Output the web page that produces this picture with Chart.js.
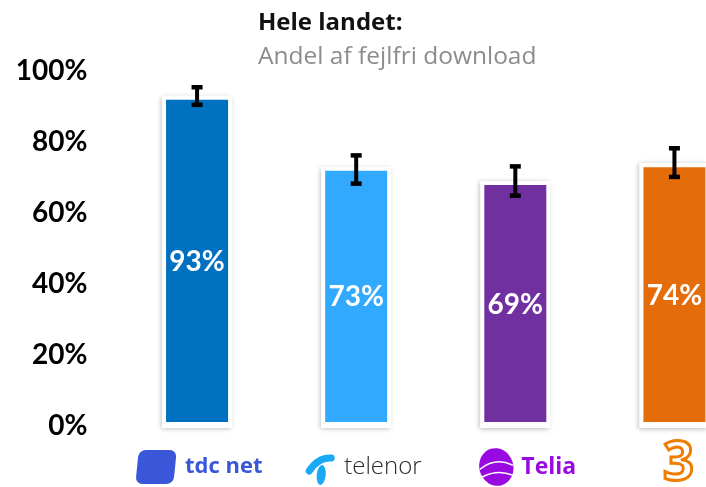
<!DOCTYPE html>
<html>
<head>
<meta charset="utf-8">
<script src="https://cdn.jsdelivr.net/npm/chart.js@4.4.1/dist/chart.umd.min.js"></script>
<style>
  html, body { margin: 0; padding: 0; overflow: hidden; background: #fff; }
  #wrap { width: 754px; height: 487px; }
</style>
</head>
<body>
<div id="wrap"><canvas id="chart" width="754" height="487"></canvas></div>
<script>
// Data
const operators = ['tdc net', 'telenor', 'Telia', '3'];
const shares = [93, 73, 69, 74];          // andel fejlfri download (%)
const errLow = [90.4, 68.2, 64.8, 70.1];  // lower end of error bar
const errHigh = [95.5, 76.3, 73.2, 78.3]; // upper end of error bar
const yTicks = [0, 20, 40, 60, 80, 100];

const barColors = ['#0070c0', '#31a9ff', '#7030a0', '#e46c0a'];

// Soft shadow behind each bar
const shadowPlugin = {
    id: 'barShadow',
    beforeDatasetsDraw(chart) {
        const ctx = chart.ctx;
        chart.getDatasetMeta(0).data.forEach(bar => {
            const p = bar.getProps(['x', 'y', 'base', 'width'], true);
            ctx.save();
            ctx.shadowColor = 'rgba(0,0,0,0.28)';
            ctx.shadowBlur = 5;
            ctx.shadowOffsetX = -1;
            ctx.shadowOffsetY = 1;
            ctx.fillStyle = '#fff';
            ctx.fillRect(p.x - p.width / 2, p.y, p.width, p.base - p.y + 2);
            ctx.restore();
        });
    }
};

// Error bars and value labels
const overlayPlugin = {
    id: 'overlay',
    afterDatasetsDraw(chart) {
        const ctx = chart.ctx;
        const y = chart.scales.y;
        chart.getDatasetMeta(0).data.forEach((bar, i) => {
            const p = bar.getProps(['x', 'y', 'base'], true);
            // value label
            ctx.save();
            ctx.fillStyle = '#fff';
            ctx.font = 'bold 28px Lato';
            ctx.textAlign = 'center';
            ctx.textBaseline = 'middle';
            ctx.fillText(shares[i] + '%', p.x, (p.y + p.base) / 2 + 1);
            // error bar
            const top = y.getPixelForValue(errHigh[i]);
            const bot = y.getPixelForValue(errLow[i]);
            ctx.strokeStyle = '#000';
            ctx.lineWidth = 4;
            ctx.beginPath();
            ctx.moveTo(p.x, top);
            ctx.lineTo(p.x, bot);
            ctx.stroke();
            ctx.fillStyle = '#000';
            ctx.fillRect(p.x - 5.5, top - 2, 11, 4.5);
            ctx.fillRect(p.x - 5.5, bot - 2.5, 11, 4.5);
            ctx.restore();
        });
    }
};

// Title, subtitle and operator "logos" under the bars
const textPlugin = {
    id: 'texts',
    afterDraw(chart) {
        const ctx = chart.ctx;
        ctx.save();
        ctx.textAlign = 'left';
        ctx.textBaseline = 'alphabetic';
        ctx.fillStyle = '#111';
        ctx.font = 'bold 24px "Open Sans"';
        ctx.fillText('Hele landet:', 258, 30);
        ctx.fillStyle = '#8c8c8c';
        ctx.font = '24.5px "Open Sans"';
        ctx.fillText('Andel af fejlfri download', 258, 64);
        ctx.restore();

        const x = chart.scales.x;
        const cy = 467;
        ctx.save();
        ctx.textBaseline = 'middle';
        ctx.textAlign = 'left';

        // tdc net
        let cx = x.getPixelForValue(0);
        ctx.save();
        ctx.translate(cx - 41, cy);
        ctx.transform(1, 0, -0.1, 1, 0, 0);
        ctx.fillStyle = '#3b57d9';
        ctx.beginPath();
        ctx.roundRect(-19, -17, 38, 34, 7);
        ctx.fill();
        ctx.restore();
        ctx.fillStyle = '#3b57d9';
        ctx.font = 'bold 22px "Open Sans"';
        ctx.fillText(operators[0], cx - 12, cy);

        // telenor
        cx = x.getPixelForValue(1);
        ctx.fillStyle = '#19a9f5';
        ctx.strokeStyle = '#19a9f5';
        ctx.lineCap = 'round';
        ctx.lineWidth = 7;
        ctx.beginPath();
        ctx.moveTo(cx - 47, cy + 4);
        ctx.quadraticCurveTo(cx - 38, cy - 10, cx - 25, cy - 9);
        ctx.stroke();
        ctx.beginPath();
        ctx.ellipse(cx - 35, cy + 8, 4.5, 10, 0.1, 0, Math.PI * 2);
        ctx.fill();
        ctx.fillStyle = '#2b2b2b';
        ctx.font = '300 24px "Open Sans"';
        ctx.fillText(operators[1], cx - 12, cy);

        // Telia
        cx = x.getPixelForValue(2);
        ctx.fillStyle = '#990ae3';
        ctx.beginPath();
        ctx.ellipse(cx - 19, cy, 17, 19, -0.3, 0, Math.PI * 2);
        ctx.fill();
        ctx.strokeStyle = '#fff';
        ctx.lineWidth = 1.5;
        ctx.beginPath();
        ctx.moveTo(cx - 35, cy + 2);
        ctx.quadraticCurveTo(cx - 20, cy - 10, cx - 3, cy - 2);
        ctx.moveTo(cx - 33, cy + 10);
        ctx.quadraticCurveTo(cx - 18, cy + 2, cx - 3, cy + 8);
        ctx.stroke();
        ctx.fillStyle = '#990ae3';
        ctx.font = 'bold 23px "Open Sans"';
        ctx.fillText(operators[2], cx + 6, cy);

        // 3
        cx = x.getPixelForValue(3);
        ctx.textAlign = 'center';
        ctx.font = 'bold 54px "Open Sans"';
        ctx.strokeStyle = '#f07d00';
        ctx.lineWidth = 3;
        ctx.strokeText(operators[3], cx + 4, cy - 2);
        ctx.restore();
    }
};

new Chart(document.getElementById('chart'), {
    type: 'bar',
    data: {
        labels: operators,
        datasets: [{
            data: shares,
            backgroundColor: barColors,
            borderColor: '#fff',
            borderWidth: 4,
            borderSkipped: false,
            barPercentage: 0.44,
            categoryPercentage: 1
        }]
    },
    options: {
        responsive: false,
        animation: false,
        layout: { padding: { top: 71, bottom: 61, left: 0, right: 0 } },
        plugins: {
            legend: { display: false },
            tooltip: { enabled: false }
        },
        scales: {
            x: { display: false },
            y: {
                min: 0,
                max: 100,
                afterBuildTicks: scale => { scale.ticks = yTicks.map(v => ({ value: v })); },
                afterFit: scale => { scale.width = 117.5; },
                ticks: {
                    callback: v => v + '%',
                    color: '#000',
                    padding: 22,
                    font: { family: 'Lato', size: 28, weight: 'bold' }
                },
                grid: { display: false },
                border: { display: false }
            }
        }
    },
    plugins: [shadowPlugin, overlayPlugin, textPlugin]
});
</script>
</body>
</html>
